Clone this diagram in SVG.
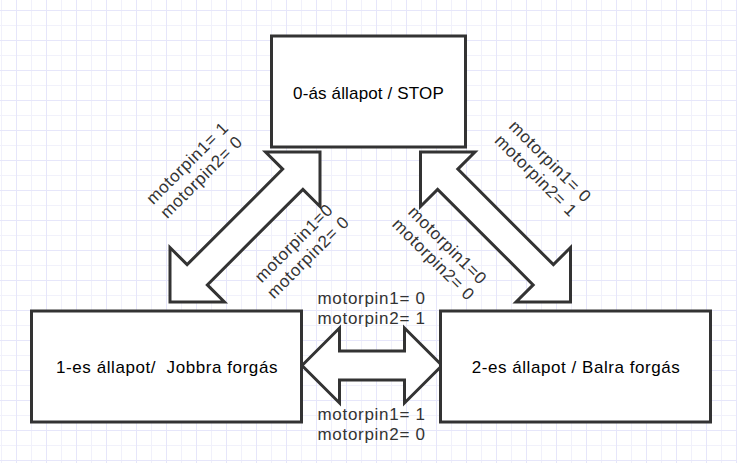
<svg xmlns="http://www.w3.org/2000/svg" width="737" height="463" viewBox="0 0 737 463">
<style>
.box{fill:#ffffff;stroke:#333333;stroke-width:3}
.arrow{fill:#ffffff;stroke:#333333;stroke-width:3;stroke-linejoin:miter}
.lbl{font-family:"Liberation Sans",Arial,sans-serif;fill:#000000;text-anchor:middle}
.pin{font-family:"Liberation Sans",Arial,sans-serif;font-size:17px;letter-spacing:0.7px;fill:#333333}
.pinc{text-anchor:middle}
</style>
<defs>
<pattern id="grid" patternUnits="userSpaceOnUse" x="1" y="10" width="30" height="30">
<rect width="30" height="30" fill="#ffffff"/>
<path d="M0.5,0 V30 M0,15.5 H30" stroke="#f1f1fb" stroke-width="1" fill="none"/>
<path d="M15.5,0 V30 M0,0.5 H30" stroke="#e6e6fa" stroke-width="1" fill="none"/>
</pattern>
</defs>
<rect width="737" height="463" fill="url(#grid)"/>
<g id="connectors">
<path id="arrow-left" class="arrow" transform="translate(245,227) rotate(-45)" d="M-106.07,0 L-67.57,-38.5 L-67.57,-14.3 L67.57,-14.3 L67.57,-38.5 L106.07,0 L67.57,38.5 L67.57,14.3 L-67.57,14.3 L-67.57,38.5 Z"/>
<path id="arrow-right" class="arrow" transform="translate(495.5,227) rotate(45)" d="M-106.07,0 L-67.57,-38.5 L-67.57,-14.3 L67.57,-14.3 L67.57,-38.5 L106.07,0 L67.57,38.5 L67.57,14.3 L-67.57,14.3 L-67.57,38.5 Z"/>
<path id="arrow-bottom" class="arrow" transform="translate(372,365.5)" d="M-70,0 L-32.5,-37.5 L-32.5,-14.5 L32.5,-14.5 L32.5,-37.5 L70,0 L32.5,37.5 L32.5,14.5 L-32.5,14.5 L-32.5,37.5 Z"/>
<text class="pin pinc" transform="translate(194.2,169.8) rotate(-45)"><tspan x="0" y="-4">motorpin1= 1</tspan><tspan x="0" y="16">motorpin2= 0</tspan></text>
<text class="pin pinc" transform="translate(300.8,250) rotate(-45)"><tspan x="0" y="-4">motorpin1=0</tspan><tspan x="0" y="16">motorpin2= 0</tspan></text>
<text class="pin pinc" transform="translate(543.3,168.3) rotate(45)"><tspan x="0" y="-4">motorpin1= 0</tspan><tspan x="0" y="16">motorpin2= 1</tspan></text>
<text class="pin pinc" transform="translate(440.8,252.1) rotate(45)"><tspan x="0" y="-4">motorpin1=0</tspan><tspan x="0" y="16">motorpin2= 0</tspan></text>
<text class="pin"><tspan x="317.5" y="303.5">motorpin1= 0</tspan><tspan x="317.5" y="323.5">motorpin2= 1</tspan></text>
<text class="pin"><tspan x="317.5" y="419.5">motorpin1= 1</tspan><tspan x="317.5" y="440">motorpin2= 0</tspan></text>
</g>
<g id="state0">
<rect class="box" x="271.5" y="36" width="194" height="111"/>
<text class="lbl" x="368.5" y="98.5" style="font-size:17px;letter-spacing:0.15px">0-ás állapot / STOP</text>
</g>
<g id="state1">
<rect class="box" x="31.5" y="311" width="270" height="111"/>
<text class="lbl" x="167" y="372.5" xml:space="preserve" style="font-size:17px;letter-spacing:0.57px">1-es állapot/  Jobbra forgás</text>
</g>
<g id="state2">
<rect class="box" x="440.5" y="311" width="270" height="111"/>
<text class="lbl" x="576" y="372.5" style="font-size:17px;letter-spacing:0.55px">2-es állapot / Balra forgás</text>
</g>
</svg>
